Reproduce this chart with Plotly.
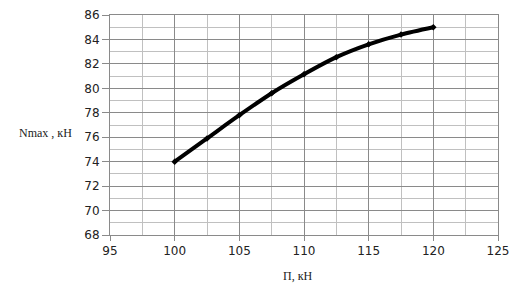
import plotly.graph_objects as go

x_vals = [100, 102.5, 105, 107.5, 110, 112.5, 115, 117.5, 120]
y_vals = [74.0, 75.9, 77.8, 79.6, 81.15, 82.55, 83.6, 84.4, 85.0]
x_ticks = [95, 100, 105, 110, 115, 120, 125]
y_ticks = [68, 70, 72, 74, 76, 78, 80, 82, 84, 86]

fig = go.Figure()
fig.add_trace(go.Scatter(
    x=x_vals, y=y_vals, mode="lines+markers",
    line=dict(color="black", width=4, shape="spline", smoothing=0.8),
    marker=dict(symbol="diamond", size=5, color="black"),
    showlegend=False, hoverinfo="skip",
))

major = "#8a8a8a"
minor_c = "#c0c0c0"
fig.update_layout(
    width=517, height=305,
    margin=dict(l=110, r=18, t=8, b=70),
    paper_bgcolor="white", plot_bgcolor="white",
    font=dict(family="DejaVu Sans", size=12, color="#222"),
    xaxis=dict(
        range=[95, 125], tickvals=x_ticks, ticktext=[str(v) for v in x_ticks],
        showgrid=True, gridcolor=major, gridwidth=1,
        minor=dict(dtick=2.5, showgrid=True, gridcolor=minor_c, gridwidth=1),
        ticks="outside", ticklen=5, tickcolor=major,
        showline=True, linecolor=major, mirror=True, zeroline=False,
        tickfont=dict(size=12),
    ),
    yaxis=dict(
        range=[68, 86], tickvals=y_ticks, ticktext=[str(v) for v in y_ticks],
        showgrid=True, gridcolor=major, gridwidth=1,
        minor=dict(dtick=1, showgrid=True, gridcolor=minor_c, gridwidth=1),
        ticks="outside", ticklen=7, tickcolor=major,
        showline=True, linecolor=major, mirror=True, zeroline=False,
        tickfont=dict(size=12),
    ),
    annotations=[
        dict(text="Nmax , кН", xref="paper", yref="paper", x=-0.166, y=0.463,
             xanchor="center", yanchor="middle", showarrow=False,
             font=dict(family="Liberation Serif", size=12, color="#222")),
        dict(text="П, кН", xref="paper", yref="paper", x=0.484, y=-0.186,
             xanchor="center", yanchor="middle", showarrow=False,
             font=dict(family="Liberation Serif", size=12, color="#222")),
    ],
)

fig.write_html("out.html")
